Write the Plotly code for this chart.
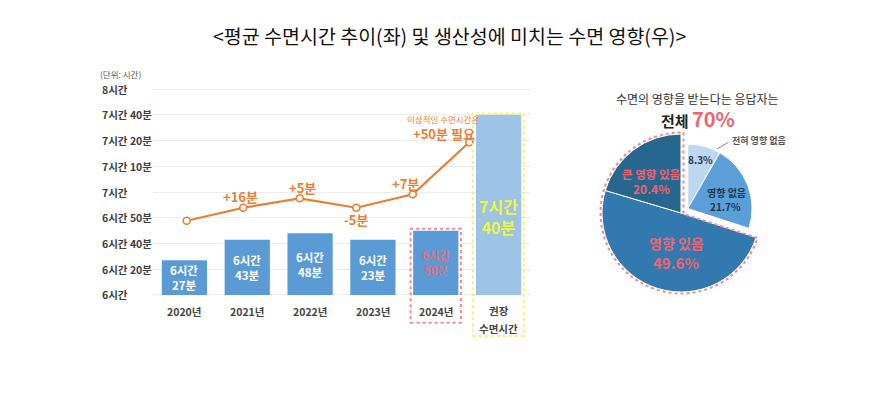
import numpy as np
import plotly.graph_objects as go

# ---------------- data ----------------
categories = ["2020년", "2021년", "2022년", "2023년", "2024년", "권장<br>수면시간"]
bar_heights = [27, 43, 48, 43, 50, 140]          # bar heights on the chart's (display) scale
bar_labels = ["6시간<br>27분", "6시간<br>43분", "6시간<br>48분", "6시간<br>23분", "6시간<br>50분", "7시간<br>40분"]
line_values = [57.7, 67.8, 75.1, 67.8, 78.2, 118.7]  # trend line, same display scale
line_labels = ["", "+16분", "+5분", "-5분", "+7분", "+50분 필요"]
ytick_vals = [0, 20, 40, 60, 80, 100, 120, 140, 160]
ytick_text = ["6시간", "6시간 20분", "6시간 40분", "6시간 50분", "7시간",
              "7시간 10분", "7시간 20분", "7시간 40분", "8시간"]

pie_labels = ["전혀 영향 없음", "영향 없음", "영향 있음", "큰 영향 있음"]
pie_values = [8.3, 21.7, 49.6, 20.4]

# ---------------- style ----------------
FONT = "Noto Sans CJK KR"
W, H = 891, 405
OFF = 8  # page body margin
BAR_BLUE = "#5B9BD5"
REC_BLUE = "#9DC3E6"
ORANGE = "#ED7D31"
PINKRED = "#EE6470"
bar_colors = [BAR_BLUE] * 5 + [REC_BLUE]
label_colors = ["white"] * 4 + ["#EC6A72", "#F2F53C"]
label_sizes = [11.5, 11.5, 11.5, 11.5, 11.5, 16]
pie_colors = ["#BDD7EE", "#5B9FD8", "#3179AE", "#27668F"]


def PX(x):
    return (x - OFF) / W


def PY(y):
    return 1 - (y - OFF) / H


xs = list(range(len(categories)))

fig = go.Figure()

fig.add_trace(go.Bar(
    x=xs, y=bar_heights, marker=dict(color=bar_colors, line=dict(width=0)),
    width=0.72, hoverinfo="skip", showlegend=False, xaxis="x", yaxis="y"))

fig.add_trace(go.Scatter(
    x=xs, y=line_values, mode="lines+markers",
    line=dict(color=ORANGE, width=2.2),
    marker=dict(symbol="circle", size=7, color="white", line=dict(color=ORANGE, width=1.6)),
    hoverinfo="skip", showlegend=False, xaxis="x2", yaxis="y"))

# Pies: large radius for the "affected" group, smaller pulled pie for the rest
main_colors = ["rgba(0,0,0,0)", "rgba(0,0,0,0)", pie_colors[2], pie_colors[3]]
small_colors = [pie_colors[0], pie_colors[1], "rgba(0,0,0,0)", "rgba(0,0,0,0)"]


def px_dom(cx, cy, r):
    return dict(x=[PX(cx - r), PX(cx + r)], y=[PY(cy + r), PY(cy - r)])


CX, CY, R = 681.0, 213.0, 79.0
fig.add_trace(go.Pie(
    labels=pie_labels, values=pie_values, sort=False, direction="clockwise", rotation=0,
    marker=dict(colors=main_colors, line=dict(color="white", width=[0, 0, 1, 1])),
    textinfo="none", hoverinfo="skip", showlegend=False,
    domain=px_dom(CX, CY, R)))
SCX, SCY, SR = 687.8, 208.5, 64.3
fig.add_trace(go.Pie(
    labels=pie_labels, values=pie_values, sort=False, direction="clockwise", rotation=0,
    marker=dict(colors=small_colors, line=dict(color="white", width=[1, 1, 0, 0])),
    textinfo="none", hoverinfo="skip", showlegend=False,
    domain=px_dom(SCX, SCY, SR)))

ann = []
# title
ann.append(dict(text="<평균 수면시간 추이(좌) 및 생산성에 미치는 수면 영향(우)>", xref="paper", yref="paper",
                x=PX(449), y=PY(36), showarrow=False, font=dict(family=FONT, size=19.5, color="#111111"),
                xanchor="center", yanchor="middle"))
# unit
ann.append(dict(text="(단위: 시간)", xref="paper", yref="paper", x=PX(98), y=PY(74), showarrow=False,
                font=dict(family=FONT, size=8.5, color="#555555"), xanchor="left", yanchor="middle"))
# y tick labels
for v, t in zip(ytick_vals, ytick_text):
    ann.append(dict(text="<b>%s</b>" % t, xref="paper", yref="y", x=PX(100), y=v, showarrow=False,
                    font=dict(family=FONT, size=10.5, color="#404040"), xanchor="left", yanchor="middle"))
# x category labels
for i, c in enumerate(categories):
    parts = c.split("<br>")
    for j, p in enumerate(parts):
        ann.append(dict(text="<b>%s</b>" % p, xref="x", yref="y", x=i, y=0,
                        yshift=-16 - 18 * j if len(parts) > 1 else -17,
                        showarrow=False, font=dict(family=FONT, size=10.5, color="#444444"),
                        xanchor="center", yanchor="middle"))
# bar labels
for i, (h, t) in enumerate(zip(bar_heights, bar_labels)):
    ann.append(dict(text="<b>%s</b>" % t, xref="x", yref="y", x=i, y=h / 2,
                    yshift=-12 if i == 5 else 0, showarrow=False,
                    font=dict(family=FONT, size=label_sizes[i], color=label_colors[i]),
                    xanchor="center", yanchor="middle"))
# line labels
shifts = [(0, 0), (-3, 11), (3, 11), (0, -12), (-7, 11), (-25, 9)]
for i, (lab, v) in enumerate(zip(line_labels, line_values)):
    if not lab:
        continue
    dx, dy = shifts[i]
    ann.append(dict(text="<b>%s</b>" % lab, xref="x2", yref="y", x=i, y=v, xshift=dx, yshift=dy,
                    showarrow=False, font=dict(family=FONT, size=13, color=ORANGE),
                    xanchor="center", yanchor="middle"))
ann.append(dict(text="이상적인 수면시간은", xref="x2", yref="y", x=5, y=line_values[5], xshift=-26, yshift=23,
                showarrow=False, font=dict(family=FONT, size=8.5, color=ORANGE),
                xanchor="center", yanchor="middle"))


# pie texts
def pann(text, x, y, size, color, bold=True, anchor="center"):
    ann.append(dict(text=("<b>%s</b>" % text) if bold else text, xref="paper", yref="paper",
                    x=PX(x), y=PY(y), showarrow=False, font=dict(family=FONT, size=size, color=color),
                    xanchor=anchor, yanchor="middle"))


pann("수면의 영향을 받는다는 응답자는", 697, 98, 12, "#333333", bold=False)
pann("전체 <span style='color:%s;font-size:20px'>70%%</span>" % PINKRED, 698, 118, 15, "#222222")
pann("%.1f%%" % pie_values[0], 700, 159, 10, "#2B3A4A")
pann(pie_labels[0], 730, 140, 9, "#555555", bold=True, anchor="left")
pann(pie_labels[1], 726, 192, 10, "#1F3550")
pann("%.1f%%" % pie_values[1], 725, 206, 10, "#1F3550")
pann(pie_labels[3], 651, 174, 11.5, PINKRED)
pann("%.1f%%" % pie_values[3], 651, 189, 12, PINKRED)
pann(pie_labels[2], 676, 243, 14, PINKRED)
pann("%.1f%%" % pie_values[2], 676, 262, 15, PINKRED)

# ---------------- shapes ----------------
shapes = []
shapes.append(dict(type="rect", xref="x", yref="y", x0=3.6, x1=4.4, y0=-21.5, y1=51.5,
                   line=dict(color="#F08A90", width=2, dash="dot"), fillcolor="rgba(0,0,0,0)", layer="above"))
shapes.append(dict(type="rect", xref="x", yref="y", x0=4.59, x1=5.4, y0=-31.8, y1=141.0,
                   line=dict(color="#F5F56A", width=2, dash="dot"), fillcolor="rgba(0,0,0,0)", layer="above"))
# leader line for the smallest slice
shapes.append(dict(type="line", xref="paper", yref="paper", x0=PX(717), y0=PY(149), x1=PX(728), y1=PY(142.5),
                   line=dict(color="#888888", width=1)))
# dotted outline around the "affected" group (angles from the pie values)
frac = np.cumsum([0] + pie_values) / sum(pie_values)
start = frac[2] * 2 * np.pi
theta = np.linspace(start, 2 * np.pi, 80)
RO = R + 1.5
pts = [(CX + 2.5, CY - RO), (CX + 2.5, CY + 1)]
pts += [(CX + RO * np.sin(t), CY - RO * np.cos(t)) for t in theta]
path = "M " + " L ".join("%.4f,%.4f" % (PX(x), PY(y)) for x, y in pts) + " Z"
shapes.append(dict(type="path", xref="paper", yref="paper", path=path,
                   line=dict(color="#F08A90", width=2, dash="dot"), fillcolor="rgba(0,0,0,0)"))

# ---------------- layout ----------------
X0, X1 = 153, 530
fig.update_layout(
    width=W, height=H, margin=dict(l=0, r=0, t=0, b=0),
    paper_bgcolor="white", plot_bgcolor="white",
    font=dict(family=FONT),
    xaxis=dict(domain=[PX(X0), PX(X1)], range=[-0.5, 5.5], showticklabels=False, showgrid=False,
               zeroline=False, showline=False, fixedrange=True),
    xaxis2=dict(domain=[PX(X0), PX(X1)], overlaying="x", range=[(X0 - 186.7) / 56.52, (X1 - 186.7) / 56.52],
                visible=False, fixedrange=True),
    yaxis=dict(domain=[PY(343.9), PY(82.6)], range=[-38, 165], tickvals=ytick_vals,
               showticklabels=False, showgrid=True, gridcolor="#ECECEC", gridwidth=1,
               zeroline=False, showline=False, fixedrange=True),
    annotations=ann, shapes=shapes, bargap=0.28,
)

fig.write_html("out.html")
